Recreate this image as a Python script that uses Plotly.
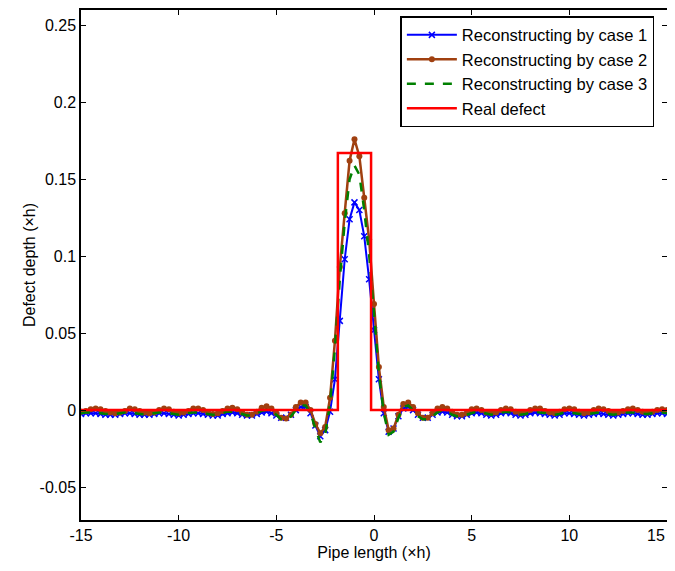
import plotly.graph_objects as go

# x sampling grid (-15 .. 15, step 0.25)
X = [round(-15 + 0.25 * i, 2) for i in range(121)]

CASE1 = [
    -0.0025, -0.002, -0.002, -0.002,
    -0.0025, -0.003, -0.003, -0.003,
    -0.0025, -0.002, -0.002, -0.0025,
    -0.003, -0.003, -0.003, -0.0025,
    -0.002, -0.002, -0.0025, -0.003,
    -0.0035, -0.003, -0.0025, -0.002,
    -0.002, -0.0025, -0.003, -0.0035,
    -0.0035, -0.0025, -0.002, -0.0015,
    -0.002, -0.003, -0.0035, -0.0035,
    -0.0025, -0.0015, -0.001, -0.002,
    -0.0035, -0.005, -0.005, -0.003,
    0.0, 0.002, 0.002, -0.002,
    -0.010, -0.017, -0.013, -0.001,
    0.020, 0.058, 0.098, 0.124,
    0.135, 0.130, 0.113, 0.085,
    0.052, 0.020, -0.002, -0.014,
    -0.012, -0.004, 0.001, 0.002,
    0.0, -0.003, -0.005, -0.005,
    -0.003, -0.0015, -0.001, -0.0015,
    -0.003, -0.004, -0.004, -0.003,
    -0.002, -0.0015, -0.002, -0.003,
    -0.0035, -0.003, -0.002, -0.0015,
    -0.002, -0.003, -0.0035, -0.003,
    -0.002, -0.0015, -0.002, -0.0025,
    -0.003, -0.0035, -0.003, -0.002,
    -0.002, -0.0025, -0.003, -0.0035,
    -0.003, -0.0025, -0.002, -0.0025,
    -0.003, -0.0035, -0.003, -0.0025,
    -0.002, -0.002, -0.0025, -0.003,
    -0.003, -0.0025, -0.002, -0.002,
    -0.0025,
]

CASE2 = [
    -0.001, -0.0005, 0.0005, 0.001,
    0.0005, -0.0005, -0.0015, -0.002,
    -0.0015, -0.0005, 0.001, 0.0005,
    -0.0005, -0.0015, -0.002, -0.0015,
    0.0, 0.001, 0.0005, -0.001,
    -0.002, -0.0015, -0.0005, 0.001,
    0.001, 0.0, -0.0015, -0.0025,
    -0.002, -0.0005, 0.001, 0.0015,
    0.0005, -0.0015, -0.003, -0.003,
    -0.001, 0.0015, 0.0025, 0.001,
    -0.002, -0.005, -0.0055, -0.003,
    0.002, 0.005, 0.005, 0.0,
    -0.009, -0.015, -0.011, 0.008,
    0.045, 0.093, 0.128, 0.162,
    0.176, 0.165, 0.138, 0.111,
    0.069, 0.028, 0.002, -0.013,
    -0.012, -0.003, 0.004, 0.005,
    0.002, -0.002, -0.005, -0.005,
    -0.002, 0.001, 0.002, 0.001,
    -0.001, -0.003, -0.003, -0.002,
    0.0005, 0.001, 0.0, -0.0015,
    -0.002, -0.0015, 0.0, 0.001,
    0.0005, -0.001, -0.002, -0.0015,
    0.0, 0.001, 0.001, -0.0005,
    -0.0015, -0.002, -0.001, 0.0005,
    0.001, 0.0005, -0.001, -0.002,
    -0.0015, 0.0, 0.001, 0.0005,
    -0.0005, -0.0015, -0.0015, -0.0005,
    0.0005, 0.001, 0.0, -0.001,
    -0.0015, -0.001, 0.0, 0.0005,
    0.0,
]

CASE3 = [
    -0.002, -0.0015, -0.0015, -0.0015,
    -0.002, -0.0025, -0.0025, -0.0025,
    -0.002, -0.0015, -0.0015, -0.002,
    -0.0025, -0.003, -0.0025, -0.002,
    -0.0015, -0.0015, -0.002, -0.0025,
    -0.003, -0.0025, -0.002, -0.0015,
    -0.0015, -0.002, -0.0025, -0.003,
    -0.003, -0.002, -0.001, -0.001,
    -0.0015, -0.0025, -0.0035, -0.0035,
    -0.002, -0.0005, 0.0, -0.001,
    -0.003, -0.006, -0.0065, -0.004,
    0.0, 0.003, 0.003, -0.002,
    -0.012, -0.021, -0.016, 0.004,
    0.040, 0.085, 0.122, 0.150,
    0.159, 0.153, 0.130, 0.101,
    0.063, 0.024, -0.002, -0.016,
    -0.014, -0.005, 0.002, 0.003,
    0.0, -0.004, -0.006, -0.006,
    -0.004, -0.0015, 0.0, -0.001,
    -0.003, -0.004, -0.004, -0.003,
    -0.0015, -0.001, -0.0015, -0.0025,
    -0.003, -0.0025, -0.0015, -0.001,
    -0.0015, -0.0025, -0.003, -0.0025,
    -0.0015, -0.001, -0.0015, -0.002,
    -0.0025, -0.003, -0.0025, -0.0015,
    -0.0015, -0.002, -0.0025, -0.003,
    -0.0025, -0.002, -0.0015, -0.002,
    -0.0025, -0.003, -0.0025, -0.002,
    -0.0015, -0.0015, -0.002, -0.0025,
    -0.0025, -0.002, -0.0015, -0.0015,
    -0.002,
]

REAL_X = [-15, -1.85, -1.85, -0.15, -0.15, 15]
REAL_Y = [0, 0, 0.167, 0.167, 0, 0]

X_TICKS = [-15, -10, -5, 0, 5, 10, 15]
# the last label ("15") sits at the window edge; it is drawn as an annotation
X_TICKTEXT = ["-15", "-10", "-5", "0", "5", "10", ""]
X_LAST_LABEL = "15"
Y_TICKS = [-0.05, 0, 0.05, 0.1, 0.15, 0.2, 0.25]
Y_TICKTEXT = ["-0.05", "0", "0.05", "0.1", "0.15", "0.2", "0.25"]

FONT = "Arial, Liberation Sans, sans-serif"

fig = go.Figure()
fig.add_trace(go.Scatter(
    x=X, y=CASE1, mode="lines+markers", name="Reconstructing by case 1",
    line=dict(color="rgb(0,0,255)", width=2),
    marker=dict(symbol="x-thin", size=6, line=dict(color="rgb(0,0,255)", width=1.5)),
))
fig.add_trace(go.Scatter(
    x=X, y=CASE2, mode="lines+markers", name="Reconstructing by case 2",
    line=dict(color="rgb(160,64,16)", width=2.5),
    marker=dict(symbol="circle", size=6, color="rgb(160,64,16)"),
))
fig.add_trace(go.Scatter(
    x=X, y=CASE3, mode="lines", name="Reconstructing by case 3",
    line=dict(color="rgb(0,128,0)", width=2.5, dash="dash"),
))
fig.add_trace(go.Scatter(
    x=REAL_X, y=REAL_Y, mode="lines", name="Real defect",
    line=dict(color="rgb(255,0,0)", width=2.5),
))

axis_common = dict(
    showline=True, linecolor="black", linewidth=1.5, mirror="ticks",
    ticks="inside", ticklen=5, tickcolor="black", tickwidth=1,
    showgrid=False, zeroline=False, automargin=False,
    tickfont=dict(family=FONT, size=16, color="black"),
)

# the page body adds an 8 px margin; the figure is sized so the page does not overflow
fig.update_layout(
    width=659, height=555,
    margin=dict(l=73, r=0, t=2, b=43),
    paper_bgcolor="white", plot_bgcolor="white",
    font=dict(family=FONT, size=16, color="black"),
    xaxis=dict(range=[-15, 15], tickvals=X_TICKS, ticktext=X_TICKTEXT,
               title=dict(text="Pipe length (×h)", font=dict(family=FONT, size=16), standoff=3),
               **axis_common),
    yaxis=dict(range=[-0.0714, 0.26], tickvals=Y_TICKS, ticktext=Y_TICKTEXT,
               title=dict(text="Defect depth (×h)", font=dict(family=FONT, size=16), standoff=0),
               **axis_common),
    legend=dict(x=0.545, y=0.988, xanchor="left", yanchor="top",
                bgcolor="white", bordercolor="black", borderwidth=1.5,
                font=dict(family=FONT, size=16.5, color="black"),
                itemwidth=50, tracegroupgap=0),
    showlegend=True,
)

fig.add_annotation(
    x=X_TICKS[-1], xref="x", y=0, yref="paper",
    text=X_LAST_LABEL, showarrow=False,
    xanchor="right", yanchor="top", xshift=0, yshift=-5,
    font=dict(family=FONT, size=16, color="black"),
)

fig.write_html("out.html")
